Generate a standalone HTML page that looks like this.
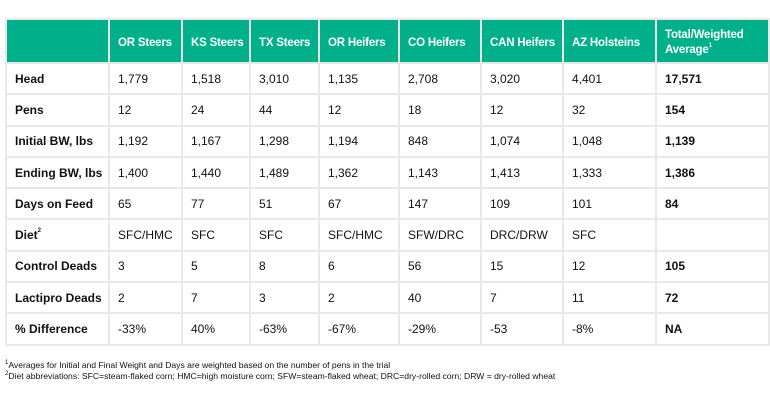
<!DOCTYPE html>
<html><head><meta charset="utf-8"><style>
body{margin:0;width:770px;height:400px;background:#fff;font-family:"Liberation Sans",sans-serif;position:relative;overflow:hidden}
table{position:absolute;left:5px;top:18px;border-collapse:collapse;table-layout:fixed;width:763px}
td,th{border:2px solid #e8e8e8;padding:0 0 0 8px;text-align:left;font-size:12px;color:#111;white-space:nowrap;height:29.3px;overflow:hidden}
th{background:#00b08a;color:#fff;font-weight:bold;height:38px;padding-top:4px;font-size:11.5px;letter-spacing:-0.2px}
td.l,td.b{font-weight:bold}
.fn{position:absolute;left:5px;font-size:8.6px;color:#111;line-height:11px}
sup{font-size:6px;vertical-align:top;line-height:6px}
</style></head><body>
<table>
<colgroup><col style="width:103px"><col style="width:73px"><col style="width:68px"><col style="width:69px"><col style="width:80px"><col style="width:82px"><col style="width:82px"><col style="width:93px"><col style="width:113px"></colgroup>
<tr><th></th><th>OR Steers</th><th>KS Steers</th><th>TX Steers</th><th>OR Heifers</th><th>CO Heifers</th><th>CAN Heifers</th><th>AZ Holsteins</th><th style="line-height:15px">Total/Weighted<br>Average<sup>1</sup></th></tr>
<tr><td class="l">Head</td><td>1,779</td><td>1,518</td><td>3,010</td><td>1,135</td><td>2,708</td><td>3,020</td><td>4,401</td><td class="b">17,571</td></tr>
<tr><td class="l">Pens</td><td>12</td><td>24</td><td>44</td><td>12</td><td>18</td><td>12</td><td>32</td><td class="b">154</td></tr>
<tr><td class="l">Initial BW, lbs</td><td>1,192</td><td>1,167</td><td>1,298</td><td>1,194</td><td>848</td><td>1,074</td><td>1,048</td><td class="b">1,139</td></tr>
<tr><td class="l">Ending BW, lbs</td><td>1,400</td><td>1,440</td><td>1,489</td><td>1,362</td><td>1,143</td><td>1,413</td><td>1,333</td><td class="b">1,386</td></tr>
<tr><td class="l">Days on Feed</td><td>65</td><td>77</td><td>51</td><td>67</td><td>147</td><td>109</td><td>101</td><td class="b">84</td></tr>
<tr><td class="l">Diet<sup>2</sup></td><td>SFC/HMC</td><td>SFC</td><td>SFC</td><td>SFC/HMC</td><td>SFW/DRC</td><td>DRC/DRW</td><td>SFC</td><td></td></tr>
<tr><td class="l">Control Deads</td><td>3</td><td>5</td><td>8</td><td>6</td><td>56</td><td>15</td><td>12</td><td class="b">105</td></tr>
<tr><td class="l">Lactipro Deads</td><td>2</td><td>7</td><td>3</td><td>2</td><td>40</td><td>7</td><td>11</td><td class="b">72</td></tr>
<tr><td class="l">% Difference</td><td>-33%</td><td>40%</td><td>-63%</td><td>-67%</td><td>-29%</td><td>-53</td><td>-8%</td><td class="b">NA</td></tr>
</table>
<div class="fn" style="top:360px"><sup>1</sup>Averages for Initial and Final Weight and Days are weighted based on the number of pens in the trial</div>
<div class="fn" style="top:371px"><sup>2</sup>Diet abbreviations: SFC=steam-flaked corn; HMC=high moisture corn; SFW=steam-flaked wheat; DRC=dry-rolled corn; DRW = dry-rolled wheat</div>
</body></html>
